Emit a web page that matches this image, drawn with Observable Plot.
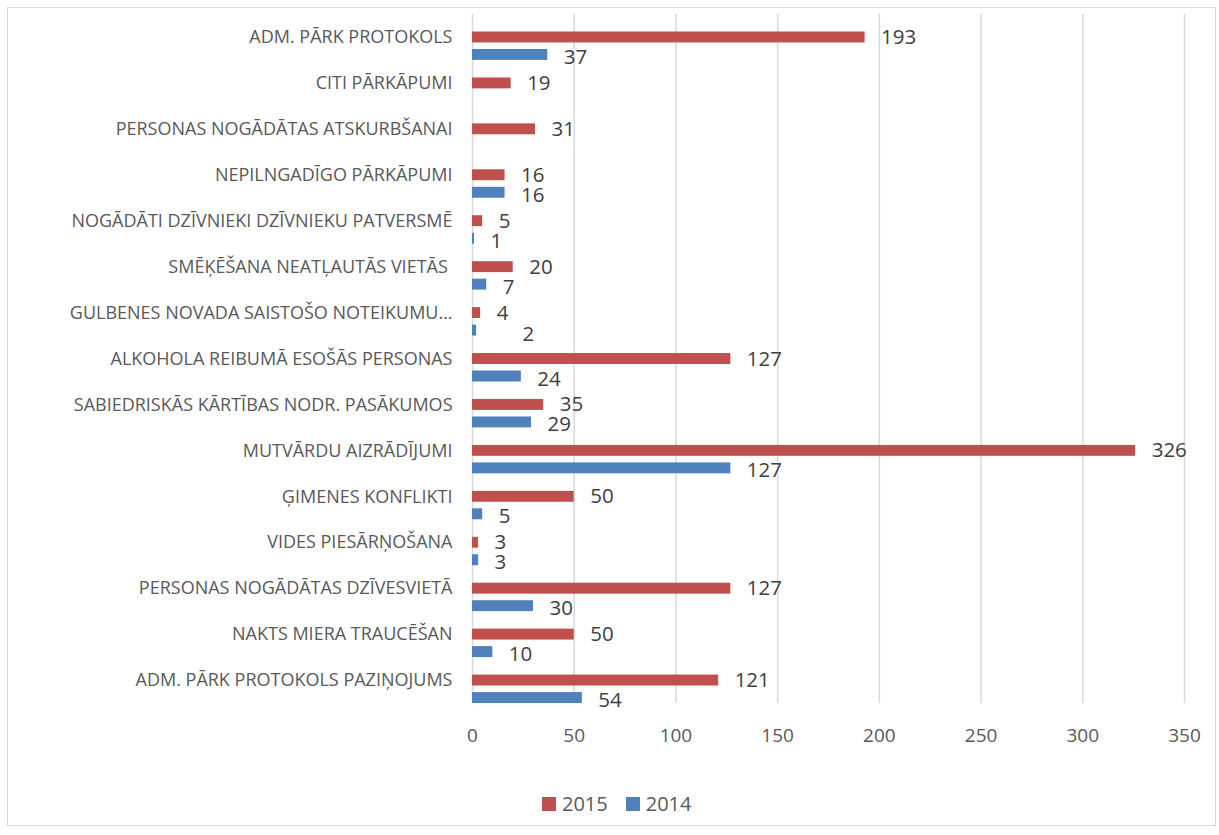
<!DOCTYPE html>
<html>
<head>
<meta charset="utf-8">
<script src="https://cdn.jsdelivr.net/npm/d3@7"></script>
<script src="https://cdn.jsdelivr.net/npm/@observablehq/plot@0.6"></script>
<style>
  html, body { margin: 0; padding: 0; background: #fff; }
  body { width: 1219px; height: 835px; position: relative; overflow: hidden; font-family: "Open Sans", sans-serif; }
  #frame { position: absolute; left: 7px; top: 7px; width: 1209px; height: 819px; box-sizing: border-box; border: 1.5px solid #d9d9d9; }
  #chart { position: absolute; left: 0; top: 0; }
  #legend { position: absolute; left: 542px; top: 790px; display: flex; align-items: center; font-size: 20px; color: #595959; }
  #legend .item { display: flex; align-items: center; margin-right: 18px; }
  #legend .sw { width: 14px; height: 14px; margin-right: 6px; }
</style>
</head>
<body>
<div id="frame"></div>
<div id="chart"></div>
<div id="legend"></div>
<script>
const categories = [
  "ADM. PĀRK PROTOKOLS",
  "CITI PĀRKĀPUMI",
  "PERSONAS NOGĀDĀTAS ATSKURBŠANAI",
  "NEPILNGADĪGO PĀRKĀPUMI",
  "NOGĀDĀTI DZĪVNIEKI DZĪVNIEKU PATVERSMĒ",
  "SMĒĶĒŠANA NEATĻAUTĀS VIETĀS ",
  "GULBENES NOVADA SAISTOŠO NOTEIKUMU…",
  "ALKOHOLA REIBUMĀ ESOŠĀS PERSONAS",
  "SABIEDRISKĀS KĀRTĪBAS NODR. PASĀKUMOS",
  "MUTVĀRDU AIZRĀDĪJUMI",
  "ĢIMENES KONFLIKTI",
  "VIDES PIESĀRŅOŠANA",
  "PERSONAS NOGĀDĀTAS DZĪVESVIETĀ",
  "NAKTS MIERA TRAUCĒŠAN",
  "ADM. PĀRK PROTOKOLS PAZIŅOJUMS"
];
const values2015 = [193, 19, 31, 16, 5, 20, 4, 127, 35, 326, 50, 3, 127, 50, 121];
const values2014 = [37, null, null, 16, 1, 7, 2, 24, 29, 127, 5, 3, 30, 10, 54];
const seriesNames = ["2015", "2014"];
const seriesColors = ["#C0504D", "#4F81BD"];
const xTicks = [0, 50, 100, 150, 200, 250, 300, 350];
const calloutCategories2014 = ["GULBENES NOVADA SAISTOŠO NOTEIKUMU…"];

const rows2015 = categories.map((c, i) => ({category: c, value: values2015[i]})).filter(d => d.value != null);
const rows2014 = categories.map((c, i) => ({category: c, value: values2014[i]})).filter(d => d.value != null);
const rows2014Plain = rows2014.filter(d => !calloutCategories2014.includes(d.category));
const rows2014Callout = rows2014.filter(d => calloutCategories2014.includes(d.category));

const labelStyle = {fontSize: 20.5, fill: "#404040", textAnchor: "start", fontFamily: "Open Sans"};

const chart = Plot.plot({
  width: 1219,
  height: 760,
  marginLeft: 472,
  marginRight: 35,
  marginTop: 14,
  marginBottom: 57,
  style: {fontFamily: "Open Sans", background: "transparent", overflow: "visible"},
  x: {domain: [0, 350]},
  y: {domain: categories, padding: 0, round: false},
  marks: [
    Plot.gridX(xTicks, {stroke: "#d9d9d9", strokeOpacity: 1, strokeWidth: 1.5}),
    Plot.barX(rows2015, {x: "value", y: "category", fill: seriesColors[0], insetTop: 17.5, insetBottom: 17.5}),
    Plot.barX(rows2014, {x: "value", y: "category", fill: seriesColors[1], insetTop: 35, insetBottom: 0}),
    Plot.text(rows2015, {x: "value", y: "category", text: d => String(d.value), dx: 16, dy: 0, ...labelStyle}),
    Plot.text(rows2014Plain, {x: "value", y: "category", text: d => String(d.value), dx: 16, dy: 20, ...labelStyle}),
    Plot.text(rows2014Callout, {x: "value", y: "category", text: d => String(d.value), dx: 46, dy: 21, ...labelStyle}),
    Plot.axisX(xTicks, {anchor: "bottom", tickSize: 0, tickPadding: 25, fontSize: 19, fill: "#595959", label: null}),
    Plot.axisY({anchor: "left", tickSize: 0, tickPadding: 20, fontSize: 18, fill: "#595959", label: null})
  ]
});
document.getElementById("chart").appendChild(chart);

const legend = document.getElementById("legend");
seriesNames.forEach((name, i) => {
  const item = document.createElement("div");
  item.className = "item";
  const sw = document.createElement("div");
  sw.className = "sw";
  sw.style.background = seriesColors[i];
  const t = document.createElement("span");
  t.textContent = name;
  item.appendChild(sw);
  item.appendChild(t);
  legend.appendChild(item);
});
</script>
</body>
</html>
